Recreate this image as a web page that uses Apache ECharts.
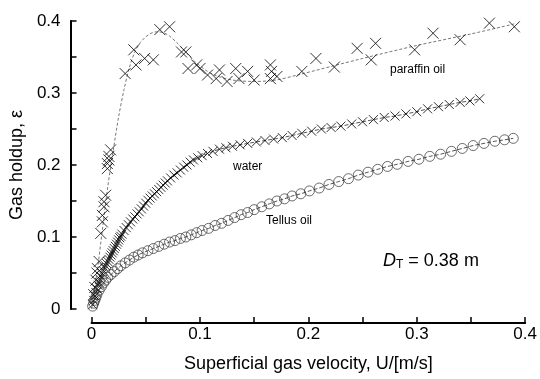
<!DOCTYPE html>
<html><head><meta charset="utf-8">
<script src="https://cdn.jsdelivr.net/npm/echarts@6/dist/echarts.min.js"></script>
<style>html,body{margin:0;background:#fff}#c{width:540px;height:379px}</style>
</head><body><div id="c"></div>
<script>
// [U (m/s), gas holdup]
const paraffinPoints = [
  [0.002,0.02],[0.003,0.03],[0.004,0.04],[0.005,0.05],[0.0055,0.056],[0.007,0.066],
  [0.0085,0.105],[0.010,0.121],[0.010,0.130],[0.0115,0.142],[0.0115,0.149],[0.013,0.158],
  [0.0146,0.195],[0.0146,0.202],[0.016,0.207],[0.016,0.212],[0.0176,0.221],
  [0.031,0.327],[0.039,0.360],[0.041,0.339],[0.049,0.348],[0.057,0.346],[0.063,0.388],
  [0.072,0.392],[0.075,0.401],[0.083,0.357],[0.087,0.357],[0.089,0.334],[0.097,0.339],
  [0.100,0.334],[0.107,0.325],[0.115,0.320],[0.118,0.332],[0.125,0.316],[0.133,0.334],
  [0.136,0.320],[0.144,0.330],[0.150,0.318],[0.165,0.339],[0.166,0.330],[0.165,0.320],
  [0.171,0.323],[0.194,0.330],[0.207,0.348],[0.224,0.336],[0.245,0.362],[0.258,0.346],
  [0.262,0.369],[0.298,0.360],[0.315,0.383],[0.340,0.374],[0.367,0.397],[0.388,0.404],[0.390,0.392]
];
const paraffinFit = [
  [0,0],[0.005,0.05],[0.010,0.11],[0.015,0.17],[0.020,0.22],[0.025,0.267],[0.030,0.305],
  [0.035,0.336],[0.040,0.357],[0.045,0.370],[0.050,0.378],[0.055,0.383],[0.060,0.385],
  [0.066,0.384],[0.072,0.379],[0.080,0.368],[0.088,0.355],[0.095,0.344],[0.105,0.332],
  [0.115,0.324],[0.130,0.318],[0.150,0.316],[0.170,0.318],[0.190,0.325],[0.250,0.348],
  [0.300,0.366],[0.350,0.382],[0.390,0.396]
];
const waterPoints = [
  [0.001,0.006],[0.002,0.012],[0.003,0.018],[0.004,0.023],[0.005,0.028],[0.006,0.033],
  [0.007,0.037],[0.008,0.041],[0.009,0.045],[0.010,0.049],[0.011,0.053],[0.012,0.057],
  [0.013,0.060],[0.014,0.063],[0.015,0.066],[0.016,0.069],[0.017,0.072],[0.018,0.075],
  [0.019,0.078],[0.020,0.081],[0.021,0.084],[0.022,0.087],[0.023,0.090],[0.024,0.093],
  [0.025,0.096],[0.026,0.099],[0.027,0.101],[0.028,0.104],[0.030,0.109],[0.032,0.113],
  [0.034,0.117],[0.036,0.121],[0.038,0.125],[0.040,0.128],[0.042,0.132],[0.044,0.135],
  [0.046,0.139],[0.048,0.143],[0.050,0.147],[0.052,0.151],[0.054,0.154],[0.056,0.157],
  [0.058,0.160],[0.060,0.163],[0.062,0.166],[0.064,0.169],[0.066,0.172],[0.068,0.175],
  [0.070,0.178],[0.073,0.182],[0.076,0.186],[0.079,0.189],[0.082,0.193],[0.085,0.197],
  [0.088,0.200],[0.091,0.204],[0.094,0.207],[0.098,0.210],[0.102,0.213],[0.107,0.216],
  [0.112,0.219],[0.118,0.222],[0.124,0.224],[0.130,0.226],[0.137,0.228],[0.144,0.230],
  [0.152,0.232],[0.160,0.234],[0.168,0.236],[0.176,0.238],[0.185,0.241],[0.194,0.244],
  [0.203,0.247],[0.212,0.250],[0.221,0.252],[0.230,0.254],[0.240,0.257],[0.250,0.260],
  [0.260,0.263],[0.270,0.266],[0.280,0.268],[0.290,0.271],[0.300,0.274],[0.310,0.278],
  [0.320,0.281],[0.330,0.284],[0.340,0.287],[0.349,0.289],[0.358,0.292]
];
const tellusPoints = [
  [0.001,0.004],[0.002,0.008],[0.003,0.012],[0.004,0.016],[0.005,0.020],[0.007,0.026],
  [0.009,0.031],[0.011,0.036],[0.013,0.040],[0.015,0.044],[0.018,0.048],[0.021,0.052],
  [0.024,0.056],[0.027,0.060],[0.031,0.064],[0.035,0.068],[0.039,0.072],[0.043,0.075],
  [0.047,0.078],[0.052,0.081],[0.057,0.084],[0.062,0.087],[0.067,0.090],[0.072,0.093],
  [0.077,0.095],[0.082,0.098],[0.087,0.100],[0.092,0.103],[0.097,0.106],[0.102,0.109],
  [0.108,0.112],[0.114,0.116],[0.120,0.119],[0.126,0.123],[0.132,0.127],[0.138,0.131],
  [0.144,0.134],[0.150,0.138],[0.157,0.142],[0.164,0.146],[0.171,0.150],[0.178,0.153],
  [0.185,0.157],[0.193,0.160],[0.201,0.164],[0.210,0.168],[0.219,0.173],[0.228,0.177],
  [0.237,0.181],[0.246,0.186],[0.255,0.190],[0.264,0.194],[0.273,0.198],[0.282,0.201],
  [0.292,0.205],[0.302,0.208],[0.312,0.212],[0.322,0.215],[0.332,0.219],[0.342,0.223],
  [0.352,0.227],[0.362,0.230],[0.372,0.233],[0.381,0.235],[0.389,0.237]
];
const xTickLabels = ['0','0.1','0.2','0.3','0.4'];
const yTickLabels = ['0','0.1','0.2','0.3','0.4'];

const FONT = '"Liberation Sans", Arial, Helvetica, sans-serif';
const CROSS = 'path://M0,0L10,10M10,0L0,10';
const chart = echarts.init(document.getElementById('c'), null, {renderer:'canvas'});
function tickFmt(labels){ return v => { const j = Math.round(v*20); return j%2===0 ? (labels[j/2]||'') : ''; }; }
const axisCommon = {
  type:'value', min:0, max:0.4, interval:0.05,
  axisLine:{show:true, onZero:false, lineStyle:{color:'#000', width:2}},
  axisTick:{show:true, inside:true, length:6, lineStyle:{color:'#000', width:1.5}},
  splitLine:{show:false},
  nameLocation:'middle',
  nameTextStyle:{fontFamily:FONT, fontSize:18, color:'#000'}
};
chart.setOption({
  animation:false,
  backgroundColor:'#fff',
  grid:{left:89, right:12, top:21, bottom:70},
  xAxis:Object.assign({}, axisCommon, {
    offset:14, name:'Superficial gas velocity, U/[m/s]', nameGap:32,
    axisLabel:{formatter:tickFmt(xTickLabels), fontFamily:FONT, fontSize:17, color:'#000', margin:3}
  }),
  yAxis:Object.assign({}, axisCommon, {
    offset:21, name:'Gas holdup, ε', nameGap:44,
    axisLabel:{formatter:tickFmt(yTickLabels), fontFamily:FONT, fontSize:17, color:'#000', margin:10}
  }),
  series:[
    {type:'line', data:paraffinFit, smooth:0.3, symbol:'none', lineStyle:{color:'#777', width:1, type:[3,2]}, z:1},
    {type:'scatter', data:paraffinPoints, symbol:CROSS, symbolSize:11,
     itemStyle:{color:'rgba(0,0,0,0)', borderColor:'#000', borderWidth:1}, z:3},
    {type:'line', data:waterPoints, symbol:'none', lineStyle:{color:'#555', width:1, type:[4,2]}, z:1},
    {type:'scatter', data:waterPoints, symbol:CROSS, symbolSize:9,
     itemStyle:{color:'rgba(0,0,0,0)', borderColor:'#000', borderWidth:1}, z:3},
    {type:'line', data:tellusPoints, symbol:'none', lineStyle:{color:'#555', width:1, type:[4,2]}, z:1},
    {type:'scatter', data:tellusPoints, symbol:'circle', symbolSize:10,
     itemStyle:{color:'rgba(0,0,0,0)', borderColor:'#333', borderWidth:0.9}, z:3}
  ],
  graphic:[
    {type:'text', left:390, top:64, style:{text:'paraffin oil', font:'12px '+FONT, fill:'#000'}},
    {type:'text', left:233, top:161, style:{text:'water', font:'12px '+FONT, fill:'#000'}},
    {type:'text', left:266, top:215, style:{text:'Tellus oil', font:'12px '+FONT, fill:'#000'}},
    {type:'text', left:383, top:252, style:{
      text:'{i|D}{s|T} = 0.38 m', fill:'#000',
      rich:{
        i:{fontFamily:FONT, fontSize:18, fontStyle:'italic', fill:'#000'},
        s:{fontFamily:FONT, fontSize:12, fill:'#000', verticalAlign:'bottom', padding:[8,0,0,0]}
      },
      font:'18px '+FONT
    }}
  ]
});
</script>
</body></html>
